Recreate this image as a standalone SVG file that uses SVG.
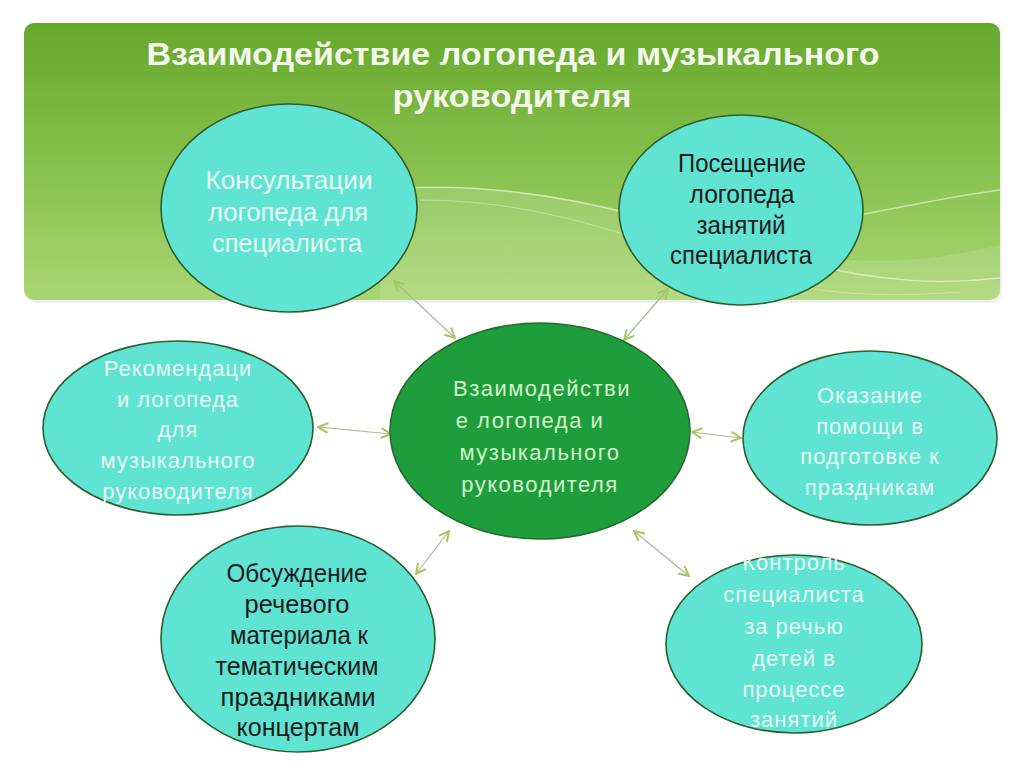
<svg xmlns="http://www.w3.org/2000/svg" width="1024" height="767" viewBox="0 0 1024 767">
<defs>
<linearGradient id="ban" x1="0" y1="0" x2="0" y2="1">
<stop offset="0" stop-color="#66a82c"/>
<stop offset="0.5" stop-color="#86c04c"/>
<stop offset="1" stop-color="#a9d673"/>
</linearGradient>
<marker id="ah" viewBox="0 0 12 12" refX="11" refY="6" markerWidth="12" markerHeight="12" markerUnits="userSpaceOnUse" orient="auto-start-reverse">
<path d="M1,1 L11,6 L1,11" fill="none" stroke="#a3c75a" stroke-width="2"/>
</marker>
<style>
.tq{fill:#5fe3d2;stroke:#2f5f2c;stroke-width:1.6}
.cg{fill:#1e9d3d;stroke:#276a2c;stroke-width:1.6}
.lt{font-family:"Liberation Sans",Arial,sans-serif;font-size:22px;fill:#e9fbf4;text-anchor:middle;letter-spacing:1px}
.ln{font-family:"Liberation Sans",Arial,sans-serif;font-size:25px;fill:#e9fbf4;text-anchor:middle}
.dk{font-family:"Liberation Sans",Arial,sans-serif;font-size:25px;fill:#1b1b1b;text-anchor:middle}
.ct{font-family:"Liberation Sans",Arial,sans-serif;font-size:22px;fill:#d4f3c8;text-anchor:middle;letter-spacing:1.5px}
.ttl{font-family:"Liberation Sans",Arial,sans-serif;font-weight:bold;font-size:32px;fill:#f3f7ec;text-anchor:middle}
.cn{stroke:#a9b89a;stroke-width:1.2;fill:none;marker-start:url(#ah);marker-end:url(#ah)}
</style>
</defs>
<rect width="1024" height="767" fill="#ffffff"/>
<g id="banner">
<rect x="26" y="25" width="976" height="278" rx="10" fill="#000" opacity="0.06"/>
<rect x="24" y="23" width="976" height="277" rx="10" fill="url(#ban)"/>
<path d="M380,190 C520,175 640,215 780,250 C860,268 930,262 1000,245 L1000,300 L380,300 Z" fill="#ffffff" opacity="0.12"/>
<path d="M400,188 C560,180 680,230 800,262 C880,282 940,285 1000,278" fill="none" stroke="#ffffff" stroke-width="1.5" opacity="0.5"/>
<path d="M420,200 C560,200 660,250 760,278 C820,294 880,298 960,292" fill="none" stroke="#ffffff" stroke-width="1" opacity="0.35"/>
<path d="M860,215 C910,205 960,195 1000,190" fill="none" stroke="#ffffff" stroke-width="1.5" opacity="0.5"/>
<text class="ttl" x="513" y="65" textLength="733" lengthAdjust="spacingAndGlyphs">Взаимодействие логопеда и музыкального</text>
<text class="ttl" x="512" y="107" textLength="239" lengthAdjust="spacingAndGlyphs">руководителя</text>
</g>
<g id="connectors">
<line class="cn" x1="394" y1="281" x2="455" y2="338"/>
<line class="cn" x1="668" y1="289" x2="624" y2="340"/>
<line class="cn" x1="318" y1="427" x2="391" y2="434"/>
<line class="cn" x1="692" y1="432" x2="741" y2="438"/>
<line class="cn" x1="449" y1="531" x2="416" y2="574"/>
<line class="cn" x1="634" y1="531" x2="689" y2="576"/>
</g>
<g id="n-consult">
<ellipse class="tq" cx="289" cy="208" rx="128" ry="104"/>
<text class="ln" x="289" y="189" textLength="167" lengthAdjust="spacingAndGlyphs">Консультации</text>
<text class="ln" x="288" y="221" textLength="160" lengthAdjust="spacingAndGlyphs">логопеда для</text>
<text class="ln" x="287" y="252" textLength="150" lengthAdjust="spacingAndGlyphs">специалиста</text>
</g>
<g id="n-visit">
<ellipse class="tq" cx="741" cy="210" rx="122" ry="95"/>
<text class="dk" x="742" y="172" textLength="128" lengthAdjust="spacingAndGlyphs">Посещение</text>
<text class="dk" x="742" y="203" textLength="105" lengthAdjust="spacingAndGlyphs">логопеда</text>
<text class="dk" x="741" y="234" textLength="89" lengthAdjust="spacingAndGlyphs">занятий</text>
<text class="dk" x="741" y="264" textLength="142" lengthAdjust="spacingAndGlyphs">специалиста</text>
</g>
<g id="n-center">
<ellipse class="cg" cx="540" cy="431" rx="150" ry="108"/>
<text class="ct" x="542" y="396">Взаимодействи</text>
<text class="ct" x="530" y="428">е логопеда и</text>
<text class="ct" x="540" y="460">музыкального</text>
<text class="ct" x="540" y="492">руководителя</text>
</g>
<g id="n-recommend">
<ellipse class="tq" cx="178" cy="428" rx="135" ry="87"/>
<text class="lt" x="178" y="376">Рекомендаци</text>
<text class="lt" x="178" y="407">и логопеда</text>
<text class="lt" x="178" y="437">для</text>
<text class="lt" x="178" y="468">музыкального</text>
<text class="lt" x="178" y="499">руководителя</text>
</g>
<g id="n-help">
<ellipse class="tq" cx="870" cy="438" rx="127" ry="87"/>
<text class="lt" x="870" y="403">Оказание</text>
<text class="lt" x="870" y="434">помощи в</text>
<text class="lt" x="870" y="464">подготовке к</text>
<text class="lt" x="870" y="495">праздникам</text>
</g>
<g id="n-discuss">
<ellipse class="tq" cx="298" cy="639" rx="137" ry="113"/>
<text class="dk" x="297" y="582" textLength="141" lengthAdjust="spacingAndGlyphs">Обсуждение</text>
<text class="dk" x="297" y="613" textLength="105" lengthAdjust="spacingAndGlyphs">речевого</text>
<text class="dk" x="299" y="644" textLength="138" lengthAdjust="spacingAndGlyphs">материала к</text>
<text class="dk" x="297" y="675" textLength="163" lengthAdjust="spacingAndGlyphs">тематическим</text>
<text class="dk" x="298" y="706" textLength="155" lengthAdjust="spacingAndGlyphs">праздниками</text>
<text class="dk" x="298" y="736" textLength="123" lengthAdjust="spacingAndGlyphs">концертам</text>
</g>
<g id="n-control">
<ellipse class="tq" cx="794" cy="644" rx="128" ry="89"/>
<text class="lt" x="794" y="570">Контроль</text>
<text class="lt" x="794" y="602">специалиста</text>
<text class="lt" x="794" y="634">за речью</text>
<text class="lt" x="794" y="666">детей в</text>
<text class="lt" x="794" y="697">процессе</text>
<text class="lt" x="794" y="727">занятий</text>
</g>
</svg>
